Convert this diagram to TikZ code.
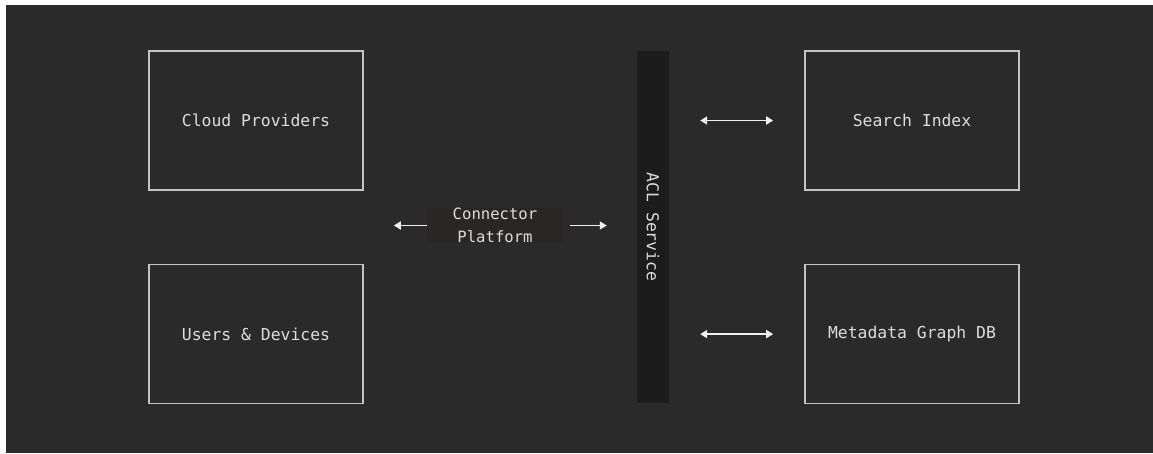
\documentclass[tikz,border=0pt]{standalone}
\usepackage{fontspec}
\setmonofont{DejaVu Sans Mono}
\usetikzlibrary{arrows.meta,positioning}

\definecolor{canvas}{HTML}{2A2A2A}
\definecolor{railfill}{HTML}{1C1C1C}
\definecolor{tagfill}{HTML}{2A2626}
\definecolor{edge}{HTML}{C4C4C4}
\definecolor{ink}{HTML}{DCDCDC}

\begin{document}
\begin{tikzpicture}[
  x=1pt, y=-1pt,
  box/.style={draw=edge, line width=1.6pt, minimum width=214pt, minimum height=139pt,
    text=ink, font=\ttfamily\fontsize{16.4}{20}\selectfont},
  rail/.style={fill=railfill, rotate=-90, inner sep=0pt, minimum width=352pt, minimum height=32pt,
    text=ink, font=\ttfamily\fontsize{16.4}{20}\selectfont},
  tag/.style={fill=tagfill, inner sep=0pt, minimum width=136pt, minimum height=35pt, align=center,
    text=ink, font=\ttfamily\fontsize{15.6}{23}\selectfont},
  link/.style={draw=white!94!black, line width=1.9pt},
  node distance=73pt,
  >={Triangle[length=7pt,width=8pt]}
]
% backdrop
\fill[white] (0,0) rectangle (1153,453);
\fill[canvas] (6,5) rectangle (1153,453);
\useasboundingbox (0,0) rectangle (1153,453);

\node[box] (cloud) at (256,120.5) {Cloud Providers};
\node[box, below=of cloud] (users) {Users \& Devices};
\node[box] (search) at (912,120.5) {Search Index};
\node[box, below=of search] (meta) {Metadata Graph DB};

% rotated rail: its south side faces left, north faces right
\node[rail] (acl) at (653,227) {ACL Service};
\node[tag] (platform) at (495,225.5) {Connector\\Platform};

\draw[link,->, shorten >=30pt] (platform.west) -- (platform.west -| cloud.east);
\draw[link,->, shorten <=7pt, shorten >=30pt] (platform.east) -- (platform.east -| acl.south);
\draw[link,<->, shorten <=31pt, shorten >=31pt] (acl.north |- search) -- (search.west);
\draw[link,<->, shorten <=31pt, shorten >=31pt] (acl.north |- meta) -- (meta.west);
\end{tikzpicture}
\end{document}
